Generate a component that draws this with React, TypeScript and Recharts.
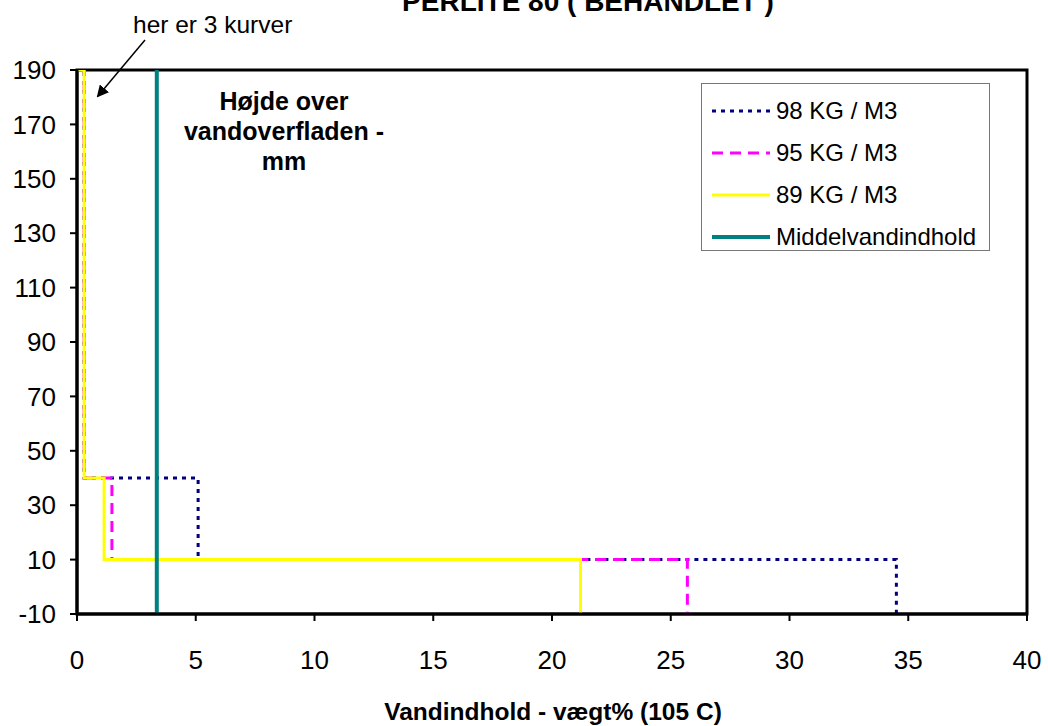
import React from 'react';
import { LineChart, Line, XAxis, YAxis, ReferenceArea } from 'recharts';

// vandindhold (vægt%) mod højde over vandoverfladen (mm), trinkurver
const heights = [190, 190, 40, 40, 10, 10, -10];
const x98 = [0, 0.3, 0.3, 5.1, 5.1, 34.5, 34.5];
const x95 = [0, 0.3, 0.3, 1.47, 1.47, 25.7, 25.7];
const x89 = [0, 0.3, 0.3, 1.14, 1.14, 21.2, 21.2];
const middelX = [3.36, 3.36];
const middelY = [-10, 190];

const xTicks = [0, 5, 10, 15, 20, 25, 30, 35, 40];
const yTicks = [-10, 10, 30, 50, 70, 90, 110, 130, 150, 170, 190];

const toPoints = (xs: number[], ys: number[]) => xs.map((x, i) => ({ x, y: ys[i] }));

const series = [
  { name: '98 KG / M3', data: toPoints(x98, heights), color: '#000080', width: 3, dash: '4 5' },
  { name: '95 KG / M3', data: toPoints(x95, heights), color: '#FF00FF', width: 3, dash: '11 7' },
  { name: '89 KG / M3', data: toPoints(x89, heights), color: '#FFFF00', width: 3, dash: undefined },
  { name: 'Middelvandindhold', data: toPoints(middelX, middelY), color: '#008080', width: 4, dash: undefined },
];

const FONT = '"Liberation Sans", Arial, sans-serif';

const LegendBox = () => (
  <div
    style={{
      position: 'absolute',
      left: 701,
      top: 83,
      width: 289,
      height: 168,
      border: '1px solid #777',
      background: '#fff',
      fontFamily: FONT,
      fontSize: 24,
      color: '#000',
      boxSizing: 'border-box',
      paddingTop: 6,
    }}
  >
    {series.map((s) => (
      <div key={s.name} style={{ display: 'flex', alignItems: 'center', height: 42 }}>
        <svg width={60} height={10} style={{ marginLeft: 10 }}>
          <line x1={0} y1={5} x2={58} y2={5} stroke={s.color} strokeWidth={s.width} strokeDasharray={s.dash} />
        </svg>
        <span style={{ marginLeft: 4 }}>{s.name}</span>
      </div>
    ))}
  </div>
);

export default function App() {
  return (
    <div style={{ position: 'absolute', left: 0, top: 0, width: 1048, height: 726, background: '#fff', overflow: 'hidden' }}>
      <LineChart width={1048} height={726} margin={{ top: 70, right: 21, bottom: 0, left: 0 }}>
        <XAxis
          type="number"
          dataKey="x"
          domain={[0, 40]}
          ticks={xTicks}
          allowDataOverflow
          height={112}
          axisLine={{ stroke: '#000', strokeWidth: 3 }}
          tickLine={{ stroke: '#000', strokeWidth: 2 }}
          tickSize={7}
          tickMargin={30}
          tick={{ fill: '#000', fontSize: 26, fontFamily: FONT }}
        />
        <YAxis
          type="number"
          dataKey="y"
          domain={[-10, 190]}
          ticks={yTicks}
          allowDataOverflow
          width={77}
          axisLine={{ stroke: '#000', strokeWidth: 3 }}
          tickLine={{ stroke: '#000', strokeWidth: 2 }}
          tickSize={7}
          tickMargin={14}
          tick={{ fill: '#000', fontSize: 26, fontFamily: FONT }}
        />
        <ReferenceArea x1={0} x2={40} y1={-10} y2={190} fill="none" stroke="#000" strokeWidth={3} />
        {series.map((s) => (
          <Line
            key={s.name}
            data={s.data}
            dataKey="y"
            name={s.name}
            type="linear"
            stroke={s.color}
            strokeWidth={s.width}
            strokeDasharray={s.dash}
            dot={false}
            activeDot={false}
            isAnimationActive={false}
          />
        ))}
      </LineChart>
      <LegendBox />
      <svg width={1048} height={726} style={{ position: 'absolute', left: 0, top: 0, pointerEvents: 'none' }}>
        <defs>
          <marker id="pil" markerWidth="12" markerHeight="12" refX="10" refY="6" orient="auto" markerUnits="userSpaceOnUse" viewBox="0 0 12 12">
            <path d="M0,0 L12,6 L0,12 z" fill="#000" />
          </marker>
        </defs>
        <text x={588} y={11} textAnchor="middle" fontFamily={FONT} fontWeight="bold" fontSize={28} fill="#000">
          PERLITE 80 ( BEHANDLET )
        </text>
        <text x={133} y={33} fontFamily={FONT} fontSize={24.5} fill="#000">
          her er 3 kurver
        </text>
        <line x1={145} y1={40} x2={98} y2={96} stroke="#000" strokeWidth={1.5} markerEnd="url(#pil)" />
        <text textAnchor="middle" fontFamily={FONT} fontWeight="bold" fontSize={25} fill="#000">
          <tspan x={284} y={110}>Højde over</tspan>
          <tspan x={284} y={140}>vandoverfladen -</tspan>
          <tspan x={284} y={170}>mm</tspan>
        </text>
        <text x={553} y={720} textAnchor="middle" fontFamily={FONT} fontWeight="bold" fontSize={24.5} fill="#000">
          Vandindhold - vægt% (105 C)
        </text>
      </svg>
    </div>
  );
}
